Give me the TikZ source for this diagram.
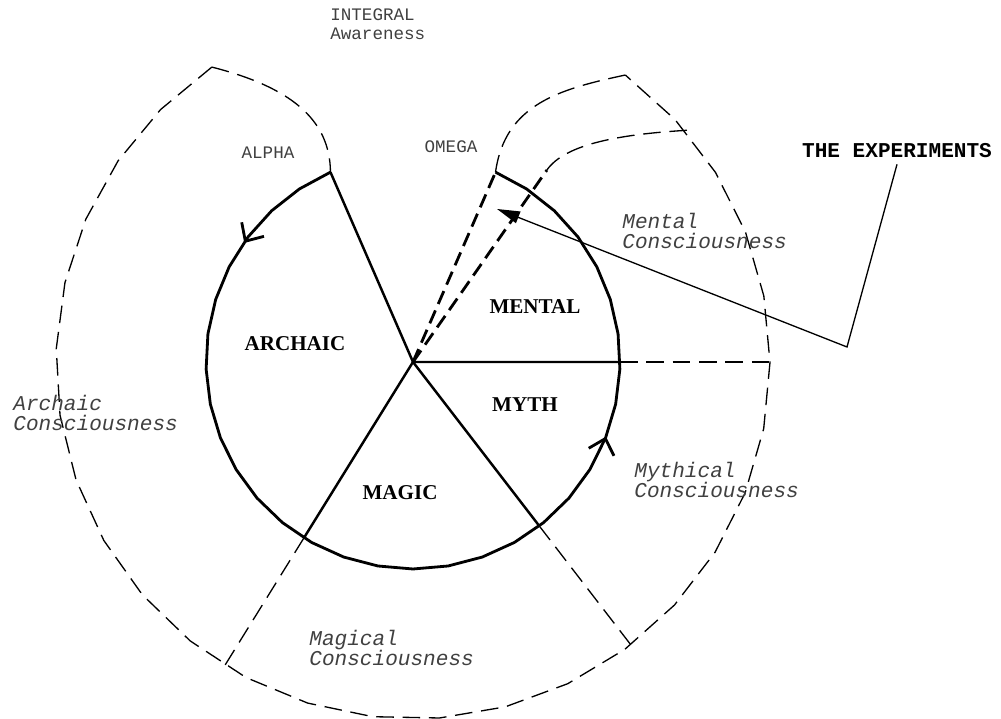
\documentclass[tikz,border=0pt]{standalone}
\usepackage{fontspec}
\setmainfont{Liberation Serif}
\setmonofont{Liberation Mono}
\usetikzlibrary{arrows.meta,decorations.markings}
\colorlet{inkgray}{black!75}

\begin{document}
\begin{tikzpicture}[x=0.02cm,y=0.02cm,
    sector/.style={font=\fontsize{12}{12}\selectfont\bfseries},
    level/.style={font=\fontsize{12}{11.5}\selectfont\ttfamily\itshape,text=inkgray,align=left,anchor=west,inner sep=0pt},
    tag/.style={font=\fontsize{10}{10.5}\selectfont\ttfamily,text=inkgray,align=left,inner sep=0pt},
    outline/.style={dash pattern=on 10pt off 5pt,line width=0.75pt},
    ray/.style={line width=1.6pt,dash pattern=on 8pt off 4pt},
    wall/.style={line width=1.4pt},
    barb/.style={decoration={markings,
        mark=at position 0.1 with {\arrow{Straight Barb[length=8pt,width=15pt]}},
        mark=at position 0.72 with {\arrow{Straight Barb[length=8pt,width=15pt]}}}}]
  \useasboundingbox (0,0) rectangle (1001,719);
  \coordinate (o) at (413,357);
  \begin{scope}[shift={(o)}]
    % inner circle, open between alpha and omega
    \draw[line width=1.6pt,postaction={decorate},barb] plot[domain=113.5:426.5,samples=33] (\x:207);
    \coordinate (alpha) at (113.5:207);
    \coordinate (omega) at (66.5:207);
    \coordinate (east) at (0:207);
    \coordinate (se) at (-52.4:207);
    \coordinate (sw) at (-121.8:207);
    \coordinate (bend2) at (55.1:234);
    % outer band
    \draw[outline] plot[domain=124.3:413.5,samples=28] (\x:357);
    \coordinate (outA) at (124.3:357);
    \coordinate (outO) at (53.5:357);
    \coordinate (outE) at (0:357);
    \coordinate (outSE) at (-52.4:357);
    \coordinate (outSW) at (-121.8:357);
  \end{scope}
  % sector walls
  \draw[wall] (alpha) -- (o) -- (east);
  \draw[wall] (sw) -- (o) -- (se);
  \draw[outline] (east) -- (outE);
  \draw[outline] (se) -- (outSE);
  \draw[outline] (sw) -- (outSW);
  \draw[outline] (outA) .. controls (290,632) and (330,600) .. (alpha);
  % omega rays
  \draw[ray] (o) -- (omega);
  \draw[ray] (o) -- (bend2);
  \draw[outline] (omega) .. controls (505,615) and (560,630) .. (outO);
  \coordinate (tail2) at (692,589);
  \draw[outline] (bend2) .. controls (565,575) and (620,585) .. (tail2);
  % labels
  \node[sector] (archaic) at (295,375) {ARCHAIC};
  \node[sector] (mental) at (535,412) {MENTAL};
  \node[sector] (myth) at (525,314) {MYTH};
  \node[sector] (magic) at (400,226) {MAGIC};
  \node[tag,anchor=west] (integral) at (330,695) {INTEGRAL\\Awareness};
  \node[tag] (alphatag) at (268,566) {ALPHA};
  \node[tag] (omegatag) at (451,572) {OMEGA};
  \node[level] (mentalc) at (622,488) {Mental\\Consciousness};
  \node[level] (archaicc) at (13,306) {Archaic\\Consciousness};
  \node[level] (mythc) at (634,239) {Mythical\\Consciousness};
  \node[level] (magicc) at (309,71) {Magical\\Consciousness};
  \node[font=\fontsize{12}{12}\selectfont\ttfamily\bfseries] (exp) at (897,568) {THE EXPERIMENTS};
  \coordinate (bend) at (847,372);
  \coordinate (hit) at (497,510);
  \draw[line width=0.75pt,-{Triangle[length=13pt,width=7pt]}] (exp.south) -- (bend) -- (hit);
\end{tikzpicture}
\end{document}
